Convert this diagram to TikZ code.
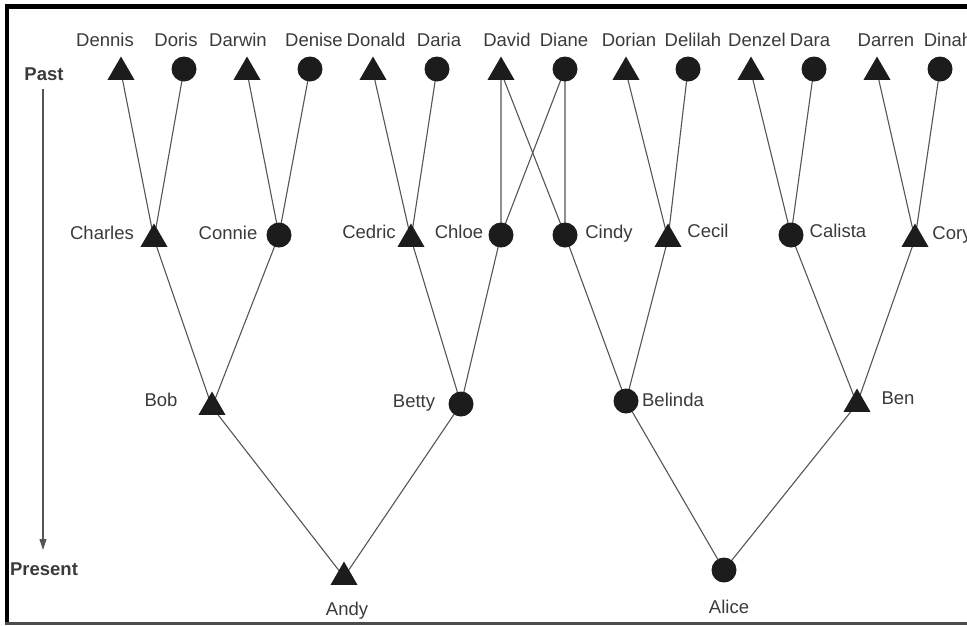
\documentclass[tikz,border=0pt]{standalone}
\usepackage{fontspec}
\setmainfont{Liberation Sans}
\usetikzlibrary{shapes.geometric,arrows.meta,backgrounds}
\definecolor{ink}{HTML}{1C1C1C}
\definecolor{txt}{HTML}{3A3A3A}
\definecolor{ln}{HTML}{555555}
\begin{document}
\begin{tikzpicture}[x=1pt,y=-1pt,
  male/.style={regular polygon, regular polygon sides=3, fill=ink, minimum size=31pt, inner sep=0pt},
  female/.style={circle, fill=ink, minimum size=25pt, inner sep=0pt},
  lbl/.style={text=txt, font=\fontsize{18.5}{20}\selectfont, inner sep=0pt, anchor=base},
  era/.style={text=txt, font=\fontsize{18.5}{20}\selectfont\bfseries, inner sep=0pt, anchor=base},
  kinline/.style={draw=ln, line width=1.1pt}]
\clip (0,0) rectangle (967,625);
% frame
\fill[black] (5,4) rectangle (967,9);
\fill[black] (5,4) rectangle (9,625);
\fill[black!70] (5,622) rectangle (967,625);

% top row (great-grandparents)
\node[male]   (dennis)  at (121,72) {};
\node[female] (doris)   at (184,69) {};
\node[male]   (darwin)  at (247,72) {};
\node[female] (denise)  at (310,69) {};
\node[male]   (donald)  at (373,72) {};
\node[female] (daria)   at (437,69) {};
\node[male]   (david)   at (501,72) {};
\node[female] (diane)   at (565,69) {};
\node[male]   (dorian)  at (626,72) {};
\node[female] (delilah) at (688,69) {};
\node[male]   (denzel)  at (751,72) {};
\node[female] (dara)    at (814,69) {};
\node[male]   (darren)  at (877,72) {};
\node[female] (dinah)   at (940,69) {};

% grandparents
\node[male]   (charles) at (154,239) {};
\node[female] (connie)  at (279,235) {};
\node[male]   (cedric)  at (411,239) {};
\node[female] (chloe)   at (501,235) {};
\node[female] (cindy)   at (565,235) {};
\node[male]   (cecil)   at (668,239) {};
\node[female] (calista) at (791,235) {};
\node[male]   (cory)    at (915,239) {};

% parents
\node[male]   (bob)     at (212,407) {};
\node[female] (betty)   at (461,404) {};
\node[female] (belinda) at (626,401) {};
\node[male]   (ben)     at (857,404) {};

% present
\node[male]   (andy)    at (344,577) {};
\node[female] (alice)   at (724,570) {};

% connectors
\begin{scope}[on background layer]
\draw[kinline] (charles.center) -- (dennis.center) (charles.center) -- (doris.center);
\draw[kinline] (connie.center) -- (darwin.center) (connie.center) -- (denise.center);
\draw[kinline] (cedric.center) -- (donald.center) (cedric.center) -- (daria.center);
\draw[kinline] (chloe.center) -- (david.center) (chloe.center) -- (diane.center);
\draw[kinline] (cindy.center) -- (david.center) (cindy.center) -- (diane.center);
\draw[kinline] (cecil.center) -- (dorian.center) (cecil.center) -- (delilah.center);
\draw[kinline] (calista.center) -- (denzel.center) (calista.center) -- (dara.center);
\draw[kinline] (cory.center) -- (darren.center) (cory.center) -- (dinah.center);
\draw[kinline] (bob.center) -- (charles.center) (bob.center) -- (connie.center);
\draw[kinline] (betty.center) -- (cedric.center) (betty.center) -- (chloe.center);
\draw[kinline] (belinda.center) -- (cindy.center) (belinda.center) -- (cecil.center);
\draw[kinline] (ben.center) -- (calista.center) (ben.center) -- (cory.center);
\draw[kinline] (andy.center) -- (bob.center) (andy.center) -- (betty.center);
\draw[kinline] (alice.center) -- (belinda.center) (alice.center) -- (ben.center);
\end{scope}

% names
\node[lbl] (tDennis)  at (105,46) {Dennis};
\node[lbl] (tDoris)   at (176,46) {Doris};
\node[lbl] (tDarwin)  at (238,46) {Darwin};
\node[lbl] (tDenise)  at (314,46) {Denise};
\node[lbl] (tDonald)  at (376,46) {Donald};
\node[lbl] (tDaria)   at (439,46) {Daria};
\node[lbl] (tDavid)   at (507,46) {David};
\node[lbl] (tDiane)   at (564,46) {Diane};
\node[lbl] (tDorian)  at (629,46) {Dorian};
\node[lbl] (tDelilah) at (693,46) {Delilah};
\node[lbl] (tDenzel)  at (757,46) {Denzel};
\node[lbl] (tDara)    at (810,46) {Dara};
\node[lbl] (tDarren)  at (886,46) {Darren};
\node[lbl] (tDinah)   at (948,46) {Dinah};

\node[lbl] (tCharles) at (102,239) {Charles};
\node[lbl] (tConnie)  at (228,239) {Connie};
\node[lbl] (tCedric)  at (369,238) {Cedric};
\node[lbl] (tChloe)   at (459,238) {Chloe};
\node[lbl] (tCindy)   at (609,238) {Cindy};
\node[lbl] (tCecil)   at (708,237) {Cecil};
\node[lbl] (tCalista) at (838,237) {Calista};
\node[lbl] (tCory)    at (952,239) {Cory};

\node[lbl] (tBob)     at (161,406) {Bob};
\node[lbl] (tBetty)   at (414,407) {Betty};
\node[lbl] (tBelinda) at (673,406) {Belinda};
\node[lbl] (tBen)     at (898,404) {Ben};

\node[lbl] (tAndy)    at (347,615) {Andy};
\node[lbl] (tAlice)   at (729,613) {Alice};

% time axis
\node[era] (past) at (44,80) {Past};
\node[era] (present) at (44,575) {Present};
\coordinate (axtop) at (43,89);
\coordinate (axend) at (43,550);
\draw[draw=ln, line width=1.1pt, -{Triangle[length=11pt,width=7pt]}] (axtop) -- (axend);
\end{tikzpicture}
\end{document}
